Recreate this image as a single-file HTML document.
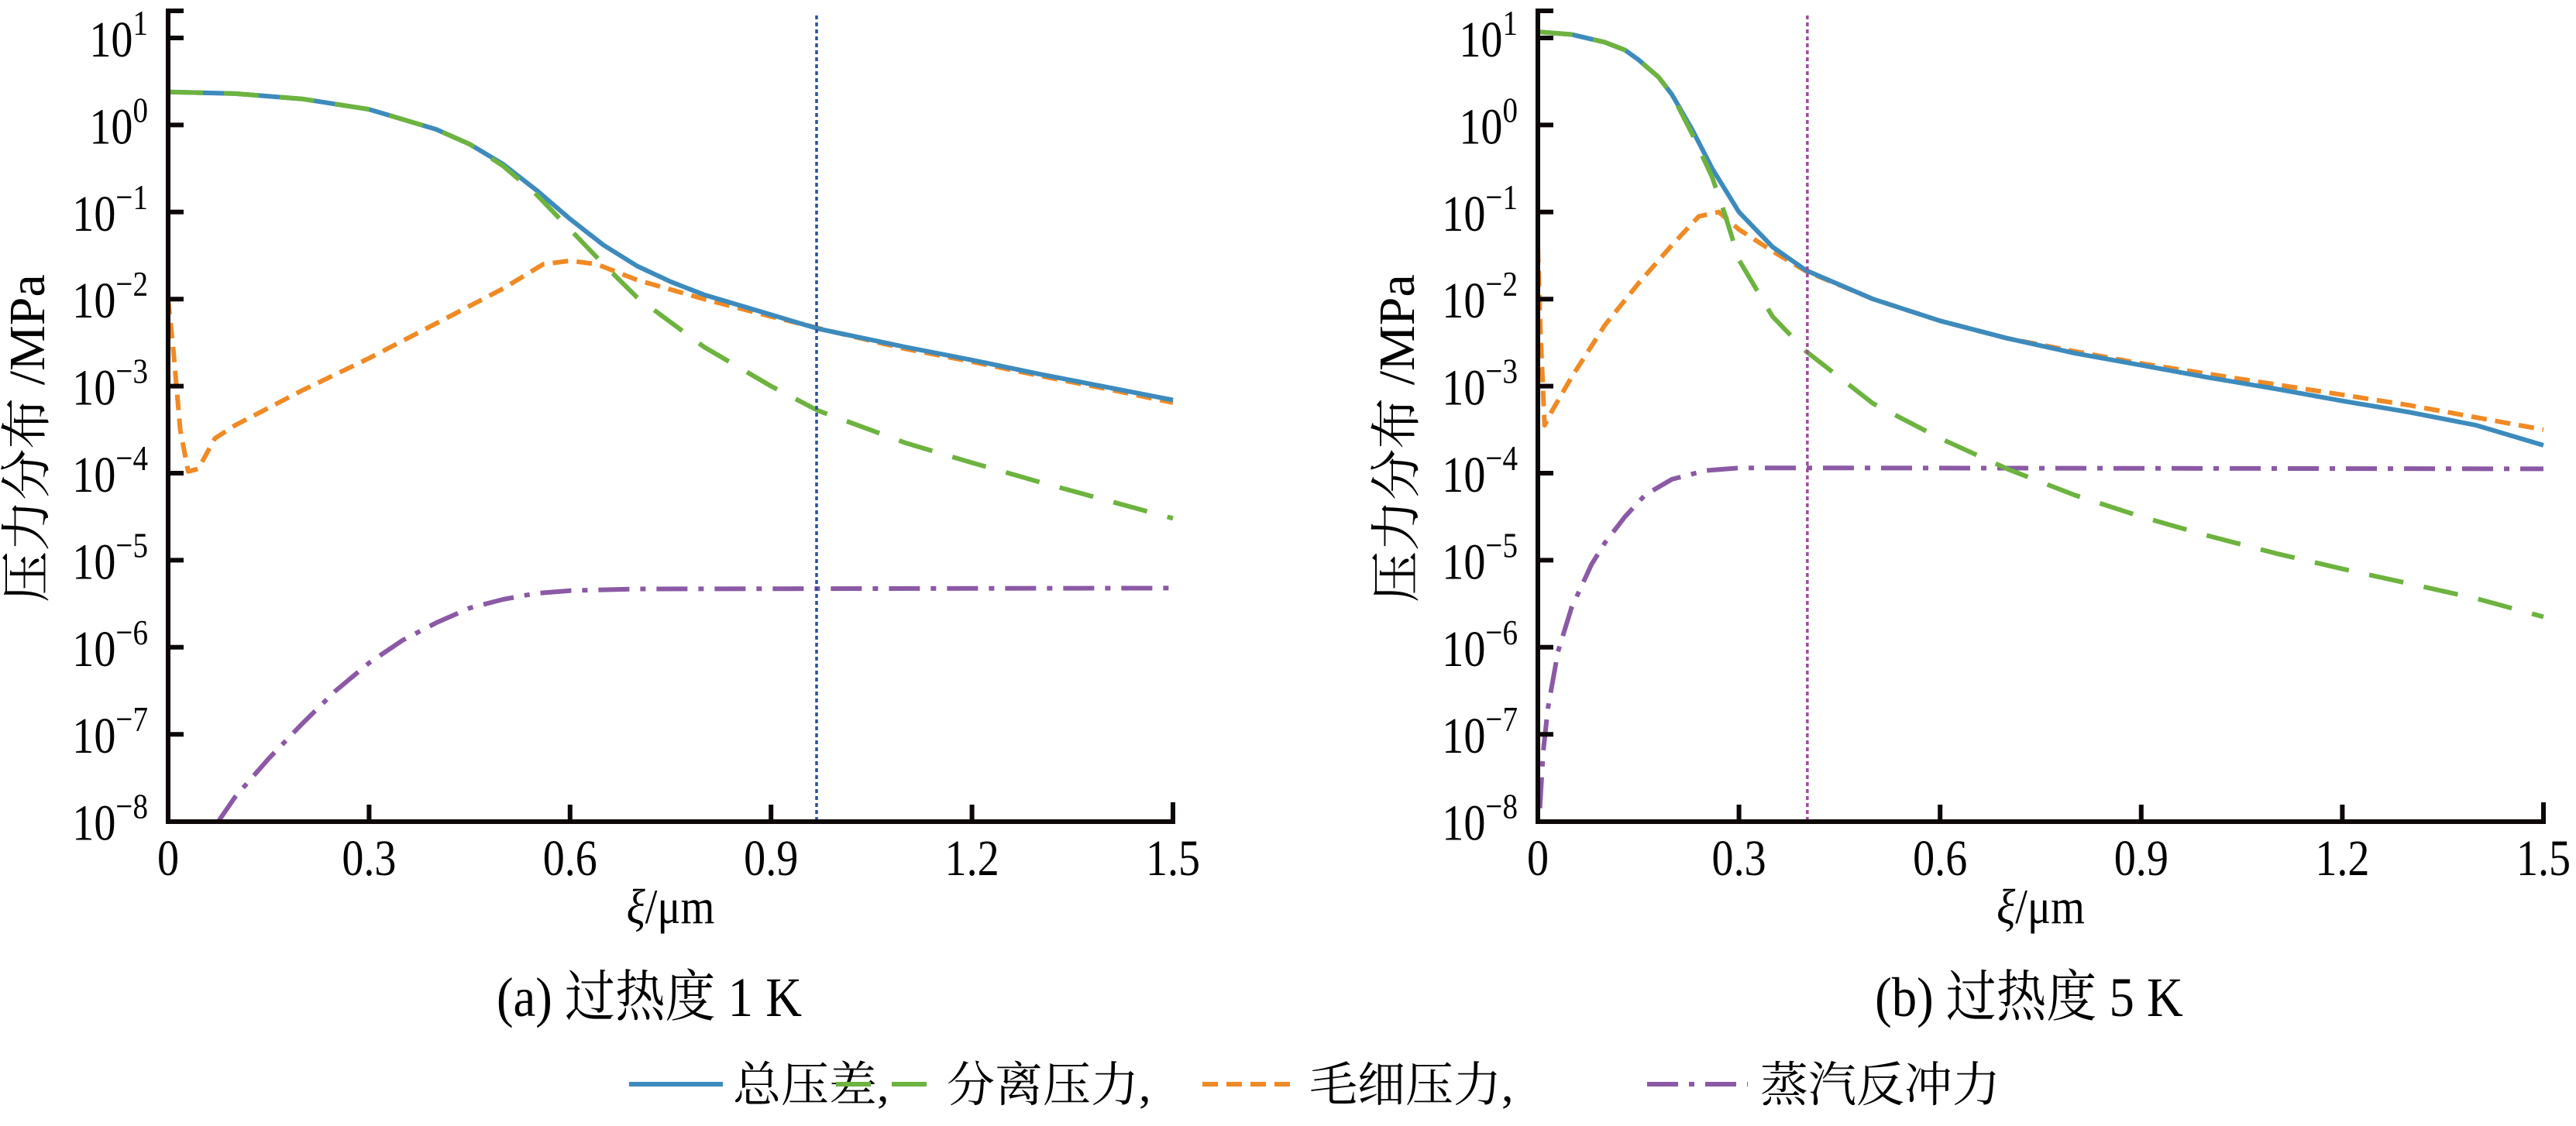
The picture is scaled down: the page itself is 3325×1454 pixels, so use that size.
<!DOCTYPE html>
<html><head><meta charset="utf-8">
<style>
html,body{margin:0;padding:0;background:#fff;}
svg{display:block;}
text{font-family:"Liberation Serif","Noto Serif CJK SC","Noto Sans CJK SC",serif;fill:#000;}
</style></head>
<body>
<svg id="s" width="3325" height="1454" viewBox="0 0 3325 1454" xmlns="http://www.w3.org/2000/svg">
<g transform="translate(838,1312) scale(0.9,1)"><text x="0" y="0" font-size="72" text-anchor="middle">(a)  过热度 1 K</text></g>
<g transform="translate(2619,1312) scale(0.9,1)"><text x="0" y="0" font-size="72" text-anchor="middle">(b)  过热度 5 K</text></g>
<g font-size="62">
<line x1="812" y1="1400" x2="933" y2="1400" stroke="#3d8bbd" stroke-width="6"/>
<text x="946" y="1422">总压差,</text>
<line x1="1079" y1="1400" x2="1209" y2="1400" stroke="#6db33f" stroke-width="6" stroke-dasharray="45,27"/>
<text x="1222" y="1422">分离压力,</text>
<line x1="1552" y1="1400" x2="1676" y2="1400" stroke="#f08a24" stroke-width="6" stroke-dasharray="20,11"/>
<text x="1690" y="1422">毛细压力,</text>
<line x1="2126" y1="1400" x2="2256" y2="1400" stroke="#8b59a5" stroke-width="6" stroke-dasharray="40,14,7,14"/>
<text x="2272" y="1422">蒸汽反冲力</text>
</g>
</svg>
<script>
var s=document.getElementById('s'),NS='http://www.w3.org/2000/svg';
function el(t,a,txt,p){var e=document.createElementNS(NS,t);for(var k in a)e.setAttribute(k,a[k]);if(txt!==undefined)e.textContent=txt;(p||s).appendChild(e);return e;}
var yTop=49,dec=112.4,yB=1061;
function panel(x0,x1,vline,vcol,series){
  var W=x1-x0;
  function X(v){return x0+v/1.5*W;}function Y(l){return yTop+(1-l)*dec;}
  series.forEach(function(sr){
    var d=sr.p.map(function(p,i){return (i?'L':'M')+X(p[0]).toFixed(1)+','+Y(p[1]).toFixed(1);}).join('');
    var a={d:d,fill:'none',stroke:sr.c,'stroke-width':6,'stroke-linecap':'butt','stroke-linejoin':'round'};
    if(sr.dash)a['stroke-dasharray']=sr.dash;
    el('path',a);
  });
  el('line',{x1:X(vline),y1:20,x2:X(vline),y2:yB,stroke:vcol,'stroke-width':3.5,'stroke-dasharray':'5,4'});
  el('path',{d:'M'+(x0+20)+',14 L'+x0+',14 L'+x0+','+yB+' L'+x1+','+yB+' L'+x1+','+(yB-25),fill:'none',stroke:'#0d0707','stroke-width':6});
  for(var k=1;k>=-8;k--){
    var y=Y(k);
    if(k>-8)el('line',{x1:x0,y1:y,x2:x0+20,y2:y,stroke:'#0d0707','stroke-width':6});
    var g=el('g',{transform:'translate('+(x0-26)+','+(y+24)+') scale(0.85,1)'});
    var t=el('text',{x:0,y:0,'font-size':66,'text-anchor':'end'},undefined,g);
    var a=document.createElementNS(NS,'tspan');a.textContent='10';t.appendChild(a);
    var b=document.createElementNS(NS,'tspan');b.setAttribute('dy','-28');b.setAttribute('font-size','46');b.textContent=(k<0?'\u2212'+(-k):''+k);t.appendChild(b);
  }
  for(var i=0;i<=5;i++){
    var xv=i*0.3,x=X(xv);
    if(i>0&&i<5)el('line',{x1:x,y1:yB,x2:x,y2:yB-22,stroke:'#0d0707','stroke-width':6});
    var g2=el('g',{transform:'translate('+x+',1130) scale(0.85,1)'});
    el('text',{x:0,y:0,'font-size':66,'text-anchor':'middle'},i==0?'0':xv.toFixed(1),g2);
  }
  var g3=el('g',{transform:'translate('+((x0+x1)/2)+',1192) scale(0.88,1)'});
  var tl=el('text',{x:0,y:0,'font-size':64,'text-anchor':'middle'},undefined,g3);
  var it=document.createElementNS(NS,'tspan');it.setAttribute('font-style','italic');it.textContent='ξ';tl.appendChild(it);
  var r=document.createElementNS(NS,'tspan');r.textContent='/μm';tl.appendChild(r);
  el('text',{x:0,y:0,'font-size':66,'text-anchor':'middle',transform:'translate('+(x0-160)+',566) rotate(-90)'},'压力分布 /MPa');
}
var B='#3d8bbd',G='#6db33f',O='#f08a24',P='#8b59a5';
panel(217,1514,0.968,'#2b4fa0',[
 {c:P,dash:'40,14,7,14',p:[[0.075,-8],[0.1,-7.72],[0.15,-7.28],[0.2,-6.88],[0.25,-6.5],[0.3,-6.18],[0.35,-5.92],[0.4,-5.72],[0.45,-5.55],[0.5,-5.45],[0.55,-5.38],[0.6,-5.35],[0.7,-5.33],[1.5,-5.32]]},
 {c:O,dash:'20,11',p:[[0,-2.0],[0.008,-2.6],[0.018,-3.5],[0.03,-3.98],[0.045,-3.95],[0.07,-3.6],[0.1,-3.45],[0.2,-3.05],[0.3,-2.68],[0.4,-2.28],[0.5,-1.88],[0.56,-1.6],[0.6,-1.56],[0.64,-1.6],[0.7,-1.78],[0.8,-2.0],[0.9,-2.2],[1.0,-2.39],[1.1,-2.57],[1.2,-2.72],[1.3,-2.88],[1.4,-3.03],[1.5,-3.19]]},
 {c:B,p:[[0,0.38],[0.1,0.36],[0.2,0.3],[0.3,0.18],[0.4,-0.05],[0.45,-0.22],[0.5,-0.45],[0.55,-0.75],[0.6,-1.08],[0.65,-1.38],[0.7,-1.62],[0.75,-1.8],[0.8,-1.95],[0.9,-2.18],[0.97,-2.34],[1.1,-2.55],[1.2,-2.7],[1.3,-2.86],[1.4,-3.01],[1.5,-3.16]]},
 {c:G,dash:'45,27',p:[[0,0.38],[0.1,0.36],[0.2,0.3],[0.3,0.18],[0.4,-0.05],[0.45,-0.22],[0.5,-0.47],[0.55,-0.8],[0.6,-1.2],[0.65,-1.6],[0.7,-1.98],[0.8,-2.55],[0.9,-3.0],[0.97,-3.28],[1.1,-3.65],[1.2,-3.88],[1.3,-4.1],[1.4,-4.31],[1.5,-4.52]]}
]);
panel(1985,3283,0.402,'#a04a9a',[
 {c:P,dash:'40,14,7,14',p:[[0.003,-7.85],[0.008,-7.2],[0.015,-6.7],[0.03,-6.05],[0.05,-5.55],[0.08,-5.05],[0.1,-4.8],[0.13,-4.5],[0.16,-4.25],[0.2,-4.07],[0.25,-3.97],[0.3,-3.94],[0.5,-3.94],[1.5,-3.95]]},
 {c:O,dash:'20,11',p:[[0,-1.4],[0.004,-2.4],[0.01,-3.45],[0.02,-3.3],[0.05,-2.9],[0.1,-2.3],[0.15,-1.82],[0.2,-1.38],[0.24,-1.05],[0.27,-1.0],[0.3,-1.2],[0.35,-1.45],[0.4,-1.68],[0.5,-2.0],[0.6,-2.25],[0.7,-2.45],[0.8,-2.6],[0.9,-2.74],[1.0,-2.86],[1.1,-2.98],[1.2,-3.1],[1.3,-3.22],[1.4,-3.36],[1.5,-3.5]]},
 {c:B,p:[[0,1.07],[0.05,1.04],[0.1,0.95],[0.13,0.86],[0.15,0.75],[0.18,0.55],[0.2,0.35],[0.23,-0.05],[0.26,-0.5],[0.3,-1.0],[0.35,-1.4],[0.4,-1.67],[0.5,-2.0],[0.6,-2.25],[0.7,-2.45],[0.8,-2.62],[0.9,-2.76],[1.0,-2.9],[1.1,-3.03],[1.2,-3.17],[1.3,-3.3],[1.4,-3.45],[1.5,-3.68]]},
 {c:G,dash:'45,27',p:[[0,1.07],[0.05,1.04],[0.1,0.95],[0.13,0.86],[0.15,0.75],[0.18,0.55],[0.2,0.35],[0.23,-0.1],[0.26,-0.6],[0.28,-1.05],[0.3,-1.55],[0.35,-2.2],[0.4,-2.6],[0.5,-3.2],[0.6,-3.6],[0.7,-3.95],[0.8,-4.25],[0.9,-4.5],[1.0,-4.72],[1.1,-4.92],[1.2,-5.1],[1.3,-5.27],[1.4,-5.44],[1.5,-5.65]]}
]);
</script>
</body></html>
